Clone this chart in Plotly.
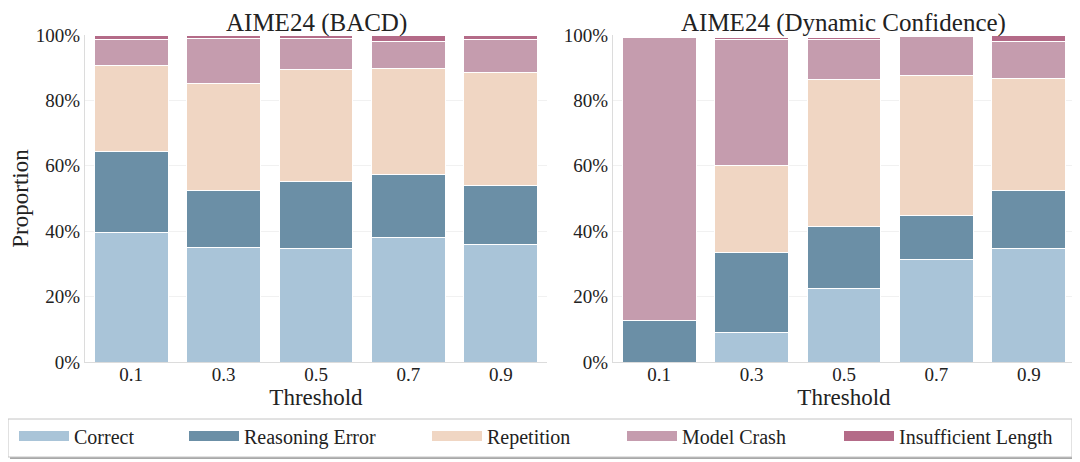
import plotly.graph_objects as go
from plotly.subplots import make_subplots

thresholds = ["0.1", "0.3", "0.5", "0.7", "0.9"]
categories = ["Correct", "Reasoning Error", "Repetition", "Model Crash", "Insufficient Length"]
colors = ["#a9c4d8", "#6b8fa6", "#f0d6c3", "#c59cae", "#b46b88"]
pct_ticks = [0, 20, 40, 60, 80, 100]
pct_labels = ["0%", "20%", "40%", "60%", "80%", "100%"]

# AIME24 (BACD), percent per threshold
bacd_correct = [39.5, 35.0, 34.7, 38.2, 35.8]
bacd_reasoning = [25.0, 17.5, 20.5, 19.2, 18.2]
bacd_repetition = [26.1, 32.6, 34.2, 32.3, 34.4]
bacd_crash = [8.0, 13.7, 9.4, 8.4, 10.2]
bacd_insufficient = [1.4, 1.2, 1.2, 1.9, 1.4]

# AIME24 (Dynamic Confidence), percent per threshold
dc_correct = [0.0, 9.1, 22.4, 31.3, 34.7]
dc_reasoning = [12.7, 24.5, 19.1, 13.5, 17.7]
dc_repetition = [0.0, 26.5, 44.9, 42.8, 34.4]
dc_crash = [86.6, 38.5, 12.2, 12.0, 11.3]
dc_insufficient = [0.0, 0.6, 0.6, 0.0, 1.9]

panels = [
    [bacd_correct, bacd_reasoning, bacd_repetition, bacd_crash, bacd_insufficient],
    [dc_correct, dc_reasoning, dc_repetition, dc_crash, dc_insufficient],
]
titles = ["AIME24 (BACD)", "AIME24 (Dynamic Confidence)"]

FONT = "Liberation Serif, Times New Roman, serif"

# page body has an 8px margin, so lay out in page pixels and shift back
OFF = 8
W, H = 1080, 462
PLOT_L, PLOT_R, PLOT_T, PLOT_B = 85, 1075, 35, 362
GAP_L, GAP_R = 547, 613
L, T = PLOT_L - OFF, PLOT_T - OFF
R, B = W - (PLOT_R - OFF), H - (PLOT_B - OFF)
pw, ph = W - L - R, H - T - B


def px_x(px):
    return (px - OFF - L) / pw


def px_y(py):
    return (H - B - (py - OFF)) / ph


# left edge of each legend swatch, in page pixels
legend_swatch_px = [17, 187, 430, 625, 842]
ITEMW = 50

fig = make_subplots(
    rows=1, cols=2, horizontal_spacing=(GAP_R - GAP_L) / pw, subplot_titles=titles
)

for col, series in enumerate(panels, start=1):
    for i, (name, vals) in enumerate(zip(categories, series)):
        fig.add_trace(
            go.Bar(
                x=thresholds,
                y=vals,
                name=name,
                marker=dict(color=colors[i], line=dict(color="white", width=1)),
                showlegend=False,
                legendgroup=name,
            ),
            row=1,
            col=col,
        )

# legend swatches: wide colour blocks like the original figure
for i, name in enumerate(categories):
    fig.add_trace(
        go.Scatter(
            x=[None],
            y=[None],
            mode="lines",
            name=name,
            line=dict(color=colors[i], width=15),
            legendgroup=name,
            legend="legend" if i == 0 else f"legend{i + 1}",
        ),
        row=1,
        col=1,
    )

legends = {}
for i, px in enumerate(legend_swatch_px):
    key = "legend" if i == 0 else f"legend{i + 1}"
    legends[key] = dict(
        x=px_x(px - 3),
        y=px_y(436),
        xanchor="left",
        yanchor="middle",
        orientation="h",
        itemwidth=ITEMW,
        bgcolor="rgba(0,0,0,0)",
        borderwidth=0,
        font=dict(family=FONT, size=20, color="#222"),
    )

frame = dict(x0=px_x(8), x1=px_x(1072), y0=px_y(457), y1=px_y(419))
fig.update_layout(
    barmode="stack",
    bargap=0.2,
    width=W,
    height=H,
    margin=dict(l=L, r=R, t=T, b=B, autoexpand=False),
    plot_bgcolor="white",
    paper_bgcolor="white",
    font=dict(family=FONT, size=19, color="#222"),
    shapes=[
        # soft drop shadow, then the legend frame
        dict(
            type="rect", xref="paper", yref="paper",
            x0=px_x(10), x1=px_x(1074), y0=px_y(459), y1=px_y(421),
            line=dict(width=0), fillcolor="#a8a8a8", layer="below",
        ),
        dict(
            type="rect", xref="paper", yref="paper",
            line=dict(color="#c4c4c4", width=1), fillcolor="white", layer="below",
            **frame,
        ),
    ],
    **legends,
)

for ann in fig.layout.annotations:
    ann.font = dict(family=FONT, size=25, color="#222")
    ann.yshift = -4

fig.update_xaxes(
    showline=True,
    linecolor="#dcdcdc",
    ticks="",
    ticklen=0,
    ticklabelstandoff=-5,
    tickfont=dict(family=FONT, size=19, color="#222"),
    title=dict(text="Threshold", font=dict(family=FONT, size=23, color="#222"), standoff=2),
)
fig.update_yaxes(
    range=[0, 100],
    tickmode="array",
    tickvals=pct_ticks,
    ticktext=pct_labels,
    showline=True,
    linecolor="#dcdcdc",
    showgrid=True,
    gridcolor="#f1f1f1",
    zeroline=False,
    ticks="",
    ticklen=0,
    tickfont=dict(family=FONT, size=19, color="#222"),
)
fig.update_yaxes(
    title=dict(text="Proportion", font=dict(family=FONT, size=23, color="#222"), standoff=12),
    row=1,
    col=1,
)

fig.write_html("out.html")
